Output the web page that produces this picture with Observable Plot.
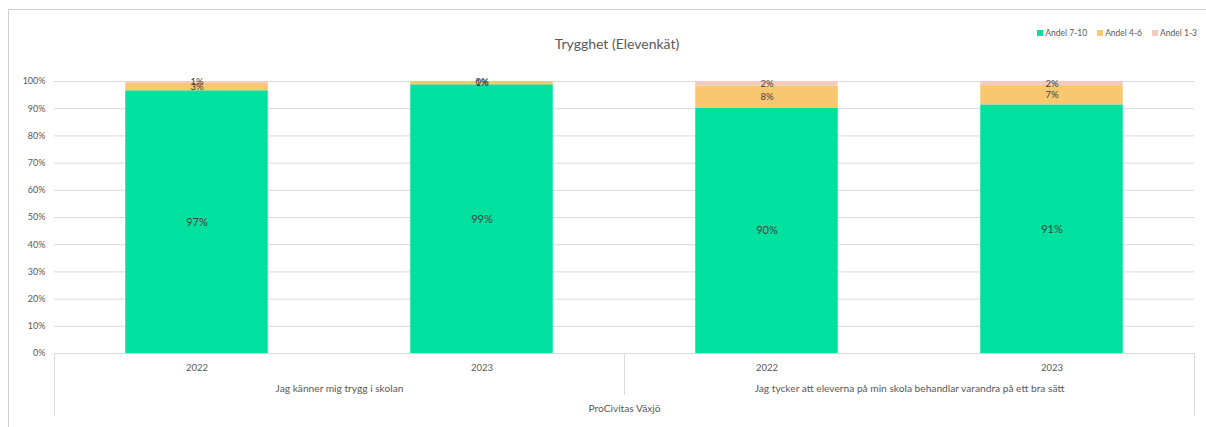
<!DOCTYPE html>
<html>
<head>
<meta charset="utf-8">
<script src="https://cdn.jsdelivr.net/npm/d3@7"></script>
<script src="https://cdn.jsdelivr.net/npm/@observablehq/plot@0.6"></script>
<style>
  html, body { margin: 0; padding: 0; background: #fff; }
  #wrap { position: relative; width: 1206px; height: 427px; overflow: hidden; font-family: Lato, "Open Sans", sans-serif; }
  #border { position: absolute; left: 8px; top: 9px; width: 1210px; height: 430px; border: 1px solid #d0d0d0; box-sizing: border-box; }
  #title { position: absolute; left: 0; width: 1234px; top: 35px; text-align: center; font-size: 14px; color: #595959; }
  #legend { position: absolute; right: 9px; top: 28px; font-size: 8.5px; color: #595959; display: flex; gap: 10px; }
  #legend span.sw { display: inline-block; width: 6px; height: 6px; margin-right: 2px; vertical-align: 0px; }
  #chart { position: absolute; left: 0; top: 0; }
</style>
</head>
<body>
<div id="wrap">
  <div id="border"></div>
  <div id="title">Trygghet (Elevenkät)</div>
  <div id="legend"></div>
  <div id="chart"></div>
</div>
<script>
// ---- Data ----
const years = ["2022", "2023", "2022", "2023"];
const groups = ["Jag känner mig trygg i skolan", "Jag tycker att eleverna på min skola behandlar varandra på ett bra sätt"];
const groupOf = [0, 0, 1, 1];
const school = "ProCivitas Växjö";
const seriesNames = ["Andel 7-10", "Andel 4-6", "Andel 1-3"];
const andel710 = [96.6, 98.8, 90.1, 91.4];
const andel46 = [2.7, 1.2, 8.3, 7.1];
const andel13 = [0.7, 0.0, 1.6, 1.5];
const yTicks = [0, 10, 20, 30, 40, 50, 60, 70, 80, 90, 100];

const colors = ["#00E19F", "#F9C76F", "#F2CAC1"];

// legend
const leg = document.getElementById("legend");
seriesNames.forEach((n, i) => {
  const d = document.createElement("div");
  d.innerHTML = `<span class="sw" style="background:${colors[i]}"></span>${n}`;
  leg.appendChild(d);
});

// build stacked table
const seriesVals = [andel710, andel46, andel13];
const rows = [];
years.forEach((yr, i) => {
  let base = 0;
  seriesVals.forEach((vals, s) => {
    const v = vals[i];
    rows.push({i, series: seriesNames[s], value: v, y1: base, y2: base + v});
    base += v;
  });
});
const bigRows = rows.filter(r => r.series === "Andel 7-10");
const smallRows = rows.filter(r => r.series !== "Andel 7-10");
const groupRows = groups.map((g, k) => {
  const idx = groupOf.map((gg, i) => gg === k ? i : null).filter(v => v !== null);
  return {label: g, x: d3.mean(idx)};
});
const outerDividers = [{x: -0.5, y: 0}, {x: years.length - 0.5, y: 0}];
const innerDividers = [{x: (years.length - 1) / 2, y: 0}];

function extendDown(len) {
  return (index, scales, values, dims, ctx, next) => {
    const g = next(index, scales, values, dims, ctx);
    d3.select(g).selectAll("path").attr("d", (_, j) => {
      const i = index[j]; const x = values.x1[i]; const y = values.y1[i];
      return `M${x},${y}V${y + len}`;
    });
    return g;
  };
}

const font = "Lato, 'Open Sans', sans-serif";
const plot = Plot.plot({
  width: 1206,
  height: 427,
  marginLeft: 54,
  marginRight: 12,
  marginTop: 81,
  marginBottom: 74,
  style: {fontFamily: font, color: "#595959", background: "transparent", overflow: "visible"},
  x: {domain: [-0.5, years.length - 0.5], axis: null},
  y: {domain: [0, 100], axis: null},
  color: {domain: seriesNames, range: colors},
  marks: [
    Plot.gridY(yTicks, {stroke: "#d9d9d9", strokeOpacity: 1}),
    Plot.axisY(yTicks, {tickSize: 0, tickPadding: 9, tickFormat: d => d + "%", fontSize: 9, fill: "#595959"}),
    Plot.rectY(rows, {x1: d => d.i - 0.25, x2: d => d.i + 0.25, y1: "y1", y2: "y2", fill: "series"}),
    Plot.text(smallRows, {x: "i", y: d => (d.y1 + d.y2) / 2, text: d => Math.round(d.value) + "%", fill: "#404040", fontSize: 9.5}),
    Plot.text(bigRows, {x: "i", y: d => (d.y1 + d.y2) / 2, text: d => Math.round(d.value) + "%", fill: "#404040", fontSize: 11}),
    Plot.link(outerDividers, {x1: "x", x2: "x", y1: "y", y2: "y", stroke: "#d9d9d9", strokeWidth: 1, render: extendDown(62)}),
    Plot.link(innerDividers, {x1: "x", x2: "x", y1: "y", y2: "y", stroke: "#d9d9d9", strokeWidth: 1, render: extendDown(41)}),
    Plot.text(years.map((y, i) => ({y, i})), {x: "i", y: 0, dy: 14, text: "y", fill: "#595959", fontSize: 9.5}),
    Plot.text(groupRows, {x: "x", y: 0, dy: 35, text: "label", fill: "#595959", fontSize: 10.2}),
    Plot.text([school], {x: (years.length - 1) / 2, y: 0, dy: 55, text: d => d, fill: "#595959", fontSize: 10.2})
  ]
});
document.getElementById("chart").appendChild(plot);
</script>
</body>
</html>
